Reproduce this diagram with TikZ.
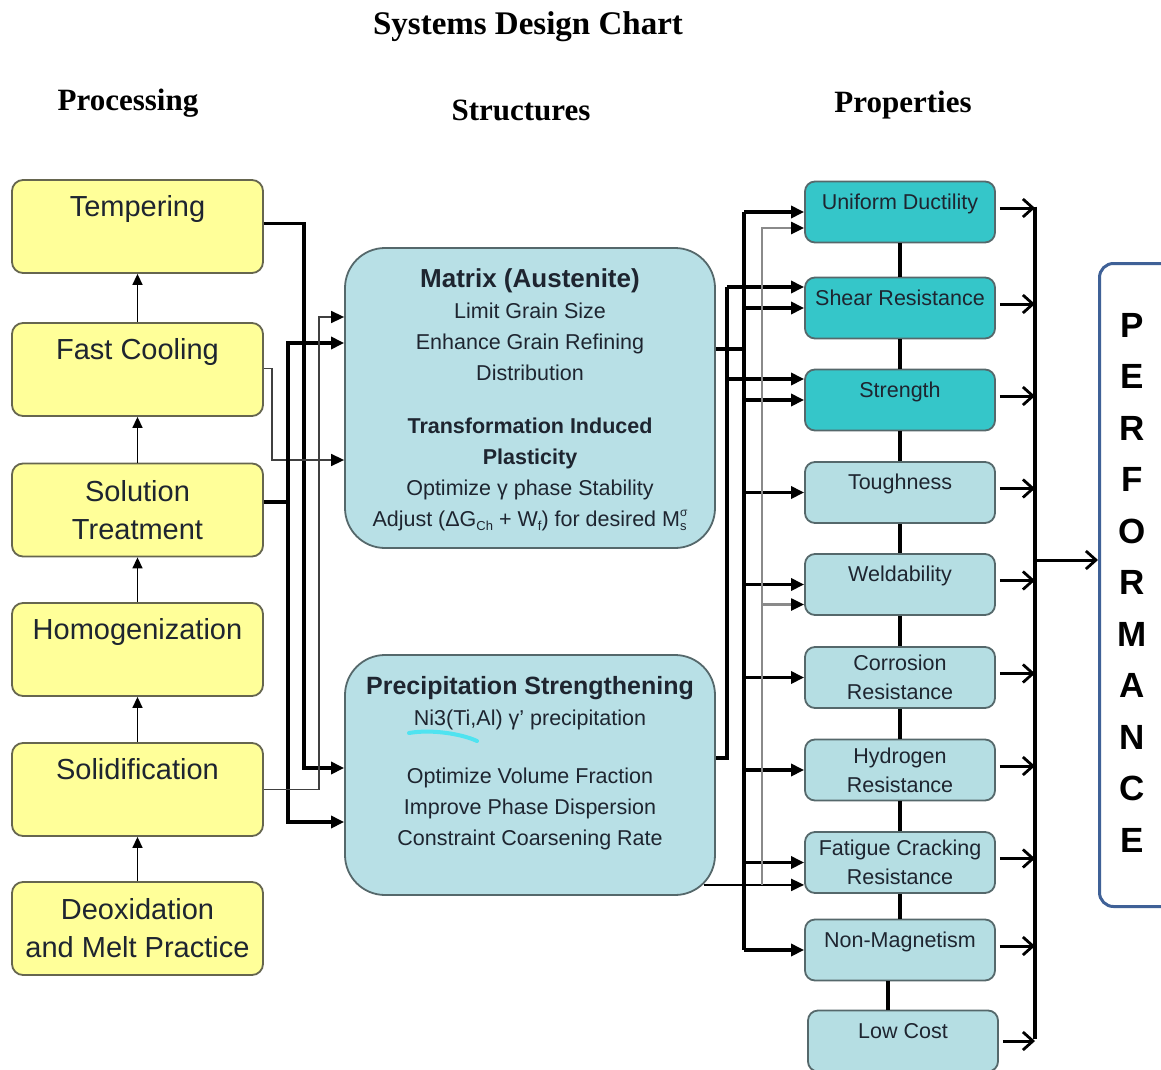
\documentclass[tikz,border=0pt]{standalone}
\usepackage{fontspec}
\setmainfont{Liberation Sans}
\newfontfamily\headfont{Liberation Serif}
\usetikzlibrary{arrows.meta,calc}
\definecolor{procfill}{HTML}{FFFF99}
\definecolor{procdraw}{HTML}{66664F}
\definecolor{structfill}{HTML}{B8E0E6}
\definecolor{bluedraw}{HTML}{55686B}
\definecolor{tealdark}{HTML}{35C6C9}
\definecolor{lightprop}{HTML}{B5DEE3}
\definecolor{perfdraw}{HTML}{3F6197}
\definecolor{txt}{HTML}{1E2530}
\definecolor{scrib}{HTML}{4FE3F0}
\definecolor{grayline}{HTML}{8A8A8A}
\newcommand{\mysubs}[1]{\raisebox{-0.35ex}{\fontsize{13pt}{13pt}\selectfont #1}}
\newcommand{\mysups}[1]{\raisebox{0.9ex}{\fontsize{12pt}{12pt}\selectfont #1}}
\begin{document}
\begin{tikzpicture}[x=1pt,y=-1pt,
  head/.style={font=\headfont\bfseries\fontsize{31}{31}\selectfont, text=black, inner sep=0pt},
  proc/.style={draw=procdraw, line width=1.8pt, fill=procfill, rounded corners=11pt,
    minimum width=251pt, minimum height=93pt, align=center, inner sep=0pt,
    font=\fontsize{29}{38}\selectfont, text=txt},
  onep/.style={text depth=42pt},
  struct/.style={draw=bluedraw, line width=1.8pt, fill=structfill, rounded corners=40pt,
    minimum width=370pt, inner sep=0pt},
  stxt/.style={align=center, inner sep=0pt, text=txt, font=\fontsize{21.5}{31}\selectfont},
  prop/.style={draw=bluedraw, line width=1.8pt, rounded corners=10pt, minimum width=190pt,
    minimum height=61pt, align=center, inner sep=0pt, font=\fontsize{21.5}{29}\selectfont, text=txt},
  darkp/.style={prop, fill=tealdark},
  lightp/.style={prop, fill=lightprop},
  onel/.style={text depth=21pt},
  thk/.style={line width=3.2pt, black},
  thn/.style={line width=1.5pt, black!75},
  gry/.style={line width=2.2pt, grayline},
  tri/.style={-{Triangle[length=13pt,width=12pt,color=black]}},
  upar/.style={line width=1.5pt, black, -{Triangle[length=11pt,width=10pt]}},
  outarr/.style={line width=3pt, black, -{Straight Barb[length=10pt,width=18pt,line width=2.8pt]}}
]
\useasboundingbox[fill=white] (0,0) rectangle (1161,1070);

% headings
\node[head, font=\headfont\bfseries\fontsize{33}{33}\selectfont] (title) at (528,27) {Systems Design Chart};
\node[head] (hproc) at (128,103) {Processing};
\node[head] (hstruct) at (521,110) {Structures};
\node[head] (hprop) at (903,105) {Properties};

% processing column
\node[proc, onep] (temp) at (137.5,226.5) {Tempering};
\node[proc, onep] (fast) at (137.5,369.5) {Fast Cooling};
\node[proc] (sol) at (137.5,510) {Solution\\Treatment};
\node[proc, onep] (homo) at (137.5,649.5) {Homogenization};
\node[proc, onep] (solid) at (137.5,789.5) {Solidification};
\node[proc] (deox) at (137.5,928.5) {Deoxidation\\and Melt Practice};

\draw[upar] (fast.north) -- (temp.south);
\draw[upar] (sol.north) -- (fast.south);
\draw[upar] (homo.north) -- (sol.south);
\draw[upar] (solid.north) -- (homo.south);
\draw[upar] (deox.north) -- (solid.south);

% structure boxes
\node[struct, minimum height=300pt] (mat) at (530,398) {};
\node[struct, minimum height=240pt] (prec) at (530,775) {};

\node[stxt] (mattxt) at (530,400) {%
{\bfseries\fontsize{26}{31}\selectfont Matrix (Austenite)}\\
Limit Grain Size\\
Enhance Grain Refining\\
Distribution\\[22pt]
{\bfseries Transformation Induced}\\
{\bfseries Plasticity}\\
Optimize γ phase Stability\\
Adjust (ΔG\mysubs{Ch} + W\mysubs{f}) for desired M\rlap{\mysubs{s}}\mysups{σ}};

\draw[scrib, line width=4pt, line cap=round] (409,733) .. controls (432,729) and (462,734) .. (477,741);
\node[stxt] (prectxt) at (530,763) {%
{\bfseries\fontsize{25}{31}\selectfont Precipitation Strengthening}\\
Ni3(Ti,Al) γ’ precipitation\\[27pt]
Optimize Volume Fraction\\
Improve Phase Dispersion\\
Constraint Coarsening Rate};

% property boxes
\node[darkp, onel] (ud) at (900,212) {Uniform Ductility};
\node[darkp, onel] (sr) at (900,308) {Shear Resistance};
\node[darkp, onel] (str) at (900,400) {Strength};
\node[lightp, onel] (tou) at (900,492.5) {Toughness};
\node[lightp, onel] (wel) at (900,584.5) {Weldability};
\node[lightp] (cor) at (900,677.5) {Corrosion\\Resistance};
\node[lightp] (hyd) at (900,770) {Hydrogen\\Resistance};
\node[lightp] (fat) at (900,862.5) {Fatigue Cracking\\Resistance};
\node[lightp, onel] (nm) at (900,950) {Non-Magnetism};
\node[lightp, onel] (lc) at (903,1041) {Low Cost};

\foreach \a/\b in {ud/sr, sr/str, str/tou, tou/wel, wel/cor, cor/hyd, hyd/fat, fat/nm}
  \draw[thk] (\a.south) -- (\b.north);
\draw[thk] ([xshift=-12pt]nm.south) -- ([xshift=-12pt]nm.south |- lc.north);

% performance
\node[draw=perfdraw, line width=3pt, rounded corners=14pt, fill=white, minimum width=90pt,
  minimum height=643pt, anchor=north west] (perf) at (1098,262) {};
\node[font=\bfseries\fontsize{35}{51.5}\selectfont, align=center, inner sep=0pt] (perftxt) at (1132,582.5)
  {P\\E\\R\\F\\O\\R\\M\\A\\N\\C\\E};

\coordinate (bx) at (1035,0);
\draw[thk] ([yshift=5.5pt]ud.east -| bx) -- ([yshift=2.5pt]lc.east -| bx);
\foreach \n in {ud,sr,str,tou,wel,cor,hyd,fat,nm}
  \draw[outarr] ([xshift=4pt,yshift=4pt]\n.east) -- ([yshift=4pt]\n.east -| bx);
\draw[outarr] ([xshift=4pt]lc.east) -- (lc.east -| bx);
\coordinate (bm) at (1035,560);
\draw[outarr] (bm) -- (perf.west |- bm);

% processing -> structures
\coordinate (c1) at (304,0);
\coordinate (c2) at (272,0);
\coordinate (c3) at (288,0);
\coordinate (c4) at (319,0);
\draw[thk, tri] ([yshift=3pt]temp.east) -| ($(prec.west -| c1)+(0,-7)$) -- ($(prec.west)+(0,-7)$);
\draw[thn, tri] ([yshift=1pt]fast.east) -| ($(mat.west -| c2)+(0,62)$) -- ($(mat.west)+(0,62)$);
\coordinate (so) at ($(sol.east)+(0,-8)$);
\draw[thk] (so) -- (so -| c3);
\draw[thk, tri] (so -| c3) |- ($(mat.west)+(0,-55)$);
\draw[thk, tri] (so -| c3) |- ($(prec.west)+(0,47)$);
\draw[thn, tri] (solid.east) -| ($(mat.west -| c4)+(0,-81)$) -- ($(mat.west)+(0,-81)$);

% structures -> properties
\coordinate (cA) at (744,0);
\coordinate (cP) at (727,0);
\coordinate (cG) at (762,0);
\coordinate (mo) at ($(mat.east)+(0,-49)$);
\draw[thk] (mo) -- (mo -| cA);
\draw[thk] (ud.west -| cA) -- (nm.west -| cA);
\foreach \n in {ud,sr,str,tou,wel,cor,hyd,fat,nm}
  \draw[thk, tri] (\n.west -| cA) -- (\n.west);

\coordinate (po) at ($(prec.east)+(0,-17)$);
\draw[thk] (po) -| ($(sr.west -| cP)+(0,-21)$);
\draw[thk, tri] ($(sr.west -| cP)+(0,-21)$) -- ($(sr.west)+(0,-21)$);
\draw[thk, tri] ($(str.west -| cP)+(0,-21)$) -- ($(str.west)+(0,-21)$);

\coordinate (pl) at ($(prec.south east)+(-12,-11)$);
\draw[line width=2.2pt, black, tri] (pl) -- (pl -| fat.west);
\draw[gry, tri] (pl -| cG) -- ($(ud.west -| cG)+(0,16)$) -- ($(ud.west)+(0,16)$);
\draw[gry, tri] ($(wel.west -| cG)+(0,20)$) -- ($(wel.west)+(0,20)$);
\end{tikzpicture}
\end{document}
